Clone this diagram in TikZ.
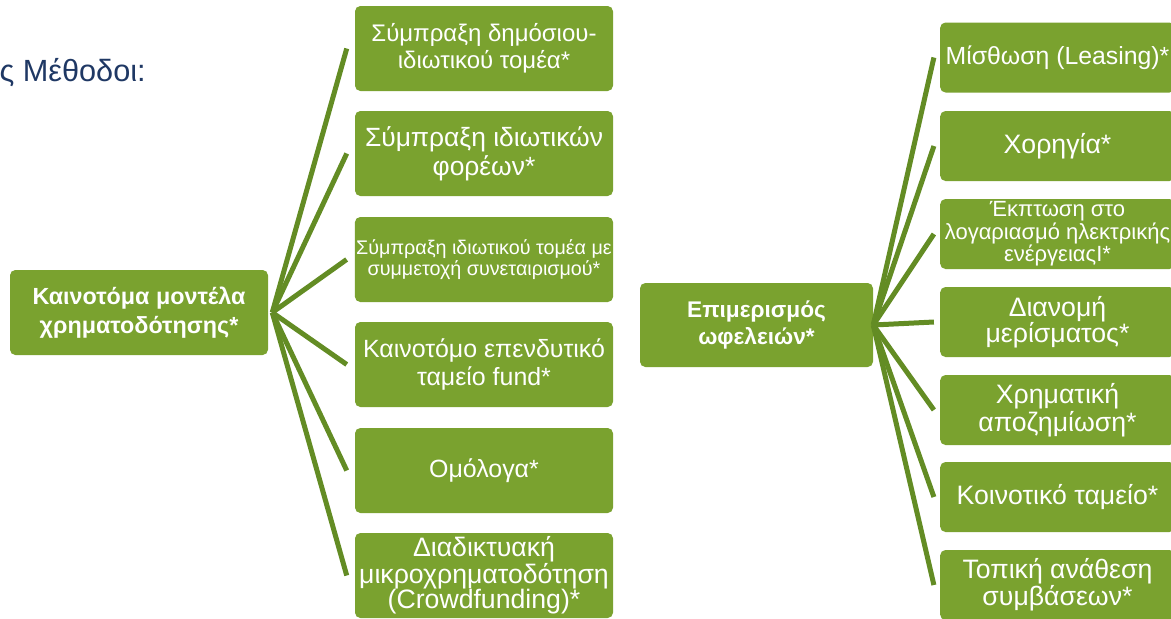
\documentclass[tikz,border=0pt]{standalone}
\usepackage{fontspec}
\setmainfont{Liberation Sans}
\definecolor{boxgreen}{HTML}{7AA22F}
\definecolor{linegreen}{HTML}{638C24}
\definecolor{titleblue}{HTML}{1F3864}

\begin{document}
\begin{tikzpicture}[
    x=0.75pt, y=-0.75pt,
    box/.style={rectangle, rounded corners=4pt, fill=boxgreen, text=white, align=center, inner sep=1pt},
    lbox/.style={box, minimum width=193.5pt, minimum height=63.75pt},
    rbox/.style={box, minimum width=176pt, minimum height=52.5pt},
    rootbox/.style={box, font=\bfseries\fontsize{17.5}{21.5}\selectfont},
    link/.style={draw=linegreen, line width=3.75pt}
]
    \useasboundingbox (0,0) rectangle (1171,618);
    \clip (0,0) rectangle (1171,618);
    % Title
    \node[anchor=east, text=titleblue, font=\fontsize{23}{26}\selectfont, inner sep=0pt] (title) at (146,73) {ς Μέθοδοι:};
    % Financing models
    \node[rootbox, minimum width=193.5pt, minimum height=63.75pt] (kf) at (139,312.5) {Καινοτόμα μοντέλα\\χρηματοδότησης*};
    \node[lbox, font=\fontsize{18}{20.5}\selectfont] (f1) at (484,48.5) {Σύμπραξη δημόσιου-\\ιδιωτικού τομέα*};
    \node[lbox, font=\fontsize{19.8}{22}\selectfont] (f2) at (484,153.5) {Σύμπραξη ιδιωτικών\\φορέων*};
    \node[lbox, font=\fontsize{14.8}{13}\selectfont] (f3) at (484,259.5) {Σύμπραξη ιδιωτικού τομέα με\\συμμετοχή συνεταιρισμού*};
    \node[lbox, font=\fontsize{18.7}{21}\selectfont] (f4) at (484,364.5) {Καινοτόμο επενδυτικό\\ταμείο fund*};
    \node[lbox, font=\fontsize{18.7}{21}\selectfont] (f5) at (484,470.5) {Ομόλογα*};
    \node[lbox, font=\fontsize{20}{19}\selectfont] (f6) at (484,575.5) {Διαδικτυακή\\μικροχρηματοδότηση\\(Crowdfunding)*};
    % Benefit sharing
    \node[rootbox, minimum width=174.75pt, minimum height=63pt, font=\bfseries\fontsize{17}{20.5}\selectfont] (ew) at (756.5,325) {Επιμερισμός\\ωφελειών*};
    \node[rbox, font=\fontsize{18.6}{21}\selectfont] (b1) at (1057.5,57.5) {Μίσθωση (Leasing)*};
    \node[rbox, font=\fontsize{20}{22}\selectfont] (b2) at (1057.5,146) {Χορηγία*};
    \node[rbox, font=\fontsize{16.5}{13.5}\selectfont] (b3) at (1057.5,234) {Έκπτωση στο\\λογαριασμό ηλεκτρικής\\ενέργειαςΙ*};
    \node[rbox, font=\fontsize{20}{19.5}\selectfont] (b4) at (1057.5,322) {Διανομή\\μερίσματος*};
    \node[rbox, font=\fontsize{20}{21}\selectfont] (b5) at (1057.5,410) {Χρηματική\\αποζημίωση*};
    \node[rbox, font=\fontsize{20}{22}\selectfont] (b6) at (1057.5,497) {Κοινοτικό ταμείο*};
    \node[rbox, font=\fontsize{20}{20.5}\selectfont] (b7) at (1057.5,585) {Τοπική ανάθεση\\συμβάσεων*};
    % Links
    \foreach \n in {f1,f2,f3,f4,f5,f6}
        \draw[link] ([xshift=3pt]kf.east) -- ([xshift=-6pt]\n.west);
    \foreach \n in {b1,b2,b3,b4,b5,b6,b7}
        \draw[link] (ew.east) -- ([xshift=-4.5pt]\n.west);
\end{tikzpicture}
\end{document}
